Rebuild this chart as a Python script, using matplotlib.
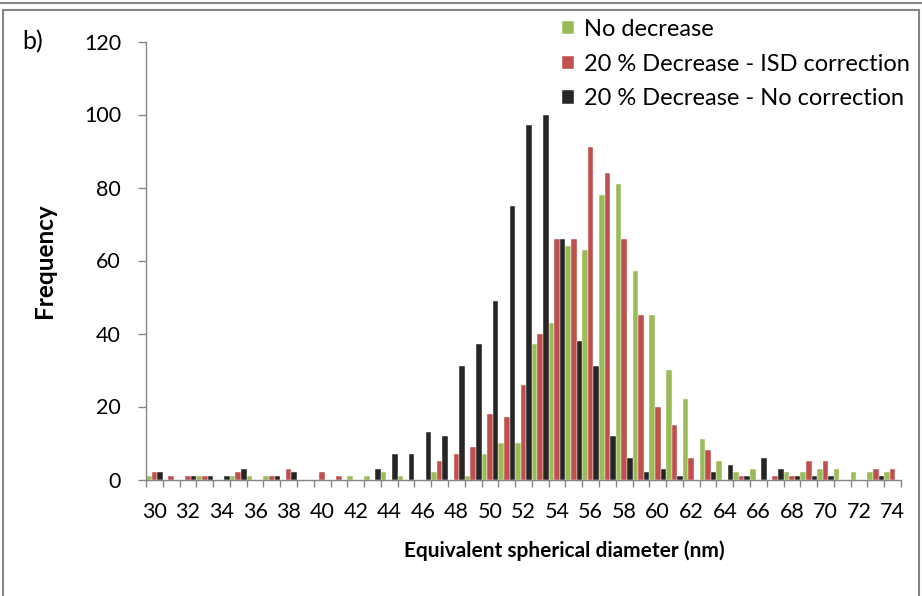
import matplotlib
matplotlib.use("Agg")
import matplotlib.pyplot as plt
from matplotlib.patches import Rectangle
from matplotlib.lines import Line2D
import numpy as np

# Size classes (nm), one category per nm
diameters = list(range(30, 75))

# Frequency per size class
no_decrease = [1, 0, 0, 1, 0, 1, 1, 1, 0, 0,
               0, 0, 1, 1, 2, 1, 0, 2, 0, 1,
               7, 10, 10, 37, 43, 64, 63, 78, 81, 57,
               45, 30, 22, 11, 5, 2, 3, 0, 2, 2,
               3, 3, 2, 2, 2]
isd_correction = [2, 1, 1, 1, 0, 2, 0, 1, 3, 0,
                  2, 1, 0, 0, 0, 0, 0, 5, 7, 9,
                  18, 17, 26, 40, 66, 66, 91, 84, 66, 45,
                  20, 15, 6, 8, 0, 1, 0, 1, 1, 5,
                  5, 0, 0, 3, 3]
no_correction = [2, 0, 1, 1, 1, 3, 0, 1, 2, 0,
                 0, 0, 0, 3, 7, 7, 13, 12, 31, 37,
                 49, 75, 97, 100, 66, 38, 31, 12, 6, 2,
                 3, 1, 0, 2, 4, 1, 6, 3, 1, 1,
                 1, 0, 0, 1, 0]

series_names = ["No decrease", "20 % Decrease - ISD correction",
                "20 % Decrease - No correction"]
colors = ["#9BBB59", "#C0504D", "#262626"]

plt.rcParams['font.family'] = ['Lato', 'DejaVu Sans']
grey = '#868686'

fig = plt.figure(figsize=(9.22, 5.96), dpi=100)
ax = fig.add_axes([146 / 922, 116.5 / 596, 755 / 922, 438 / 596])

x = np.arange(len(diameters))
w = 1 / 3
for k, (vals, name, col) in enumerate(zip([no_decrease, isd_correction, no_correction],
                                           series_names, colors)):
    ax.bar(x + (k - 1) * w, vals, width=w, color=col, label=name,
           edgecolor='white', linewidth=0.3)

ax.set_xlim(-0.5, len(diameters) - 0.5)
ax.set_ylim(0, 120)
ax.set_yticks(range(0, 121, 20))

# labels every 2 nm, tick marks at each category boundary
ax.set_xticks(x[::2])
ax.set_xticklabels([str(d) for d in diameters[::2]])
ax.set_xticks(np.arange(-0.5, len(diameters), 1), minor=True)
ax.tick_params(axis='x', which='major', length=0, pad=16, labelsize=15.5)
ax.tick_params(axis='x', which='minor', length=5, color=grey, width=1)
ax.tick_params(axis='y', length=6, color=grey, width=1, labelsize=15.5, pad=12)

for s in ['top', 'right']:
    ax.spines[s].set_visible(False)
for s in ['left', 'bottom']:
    ax.spines[s].set_color(grey)
    ax.spines[s].set_linewidth(1)

ax.set_ylabel("Frequency", fontsize=17.5, fontweight='bold', labelpad=20)
fig.text(564 / 922, 1 - 551 / 596, "Equivalent spherical diameter (nm)",
         fontsize=15, fontweight='bold', ha='center', va='center')

ax.legend(loc='upper left', bbox_to_anchor=(562 / 922, 1 - 19 / 596),
          bbox_transform=fig.transFigure, frameon=False, fontsize=17,
          handlelength=0.5, handleheight=0.5, handletextpad=0.42,
          labelspacing=0.58, borderaxespad=0, borderpad=0)

fig.text(22 / 922, 1 - 42 / 596, "b)", fontsize=18, va='center', ha='left')

# panel frame
fig.patches.append(Rectangle((3 / 922, -0.05), 916 / 922, 1.05 - 10 / 596,
                             transform=fig.transFigure, fill=False,
                             edgecolor=grey, linewidth=1.5))
fig.lines.append(Line2D([0, 1], [1 - 3 / 596, 1 - 3 / 596],
                        transform=fig.transFigure, color=grey, linewidth=1.5))

fig.savefig("out.png", dpi=100)
